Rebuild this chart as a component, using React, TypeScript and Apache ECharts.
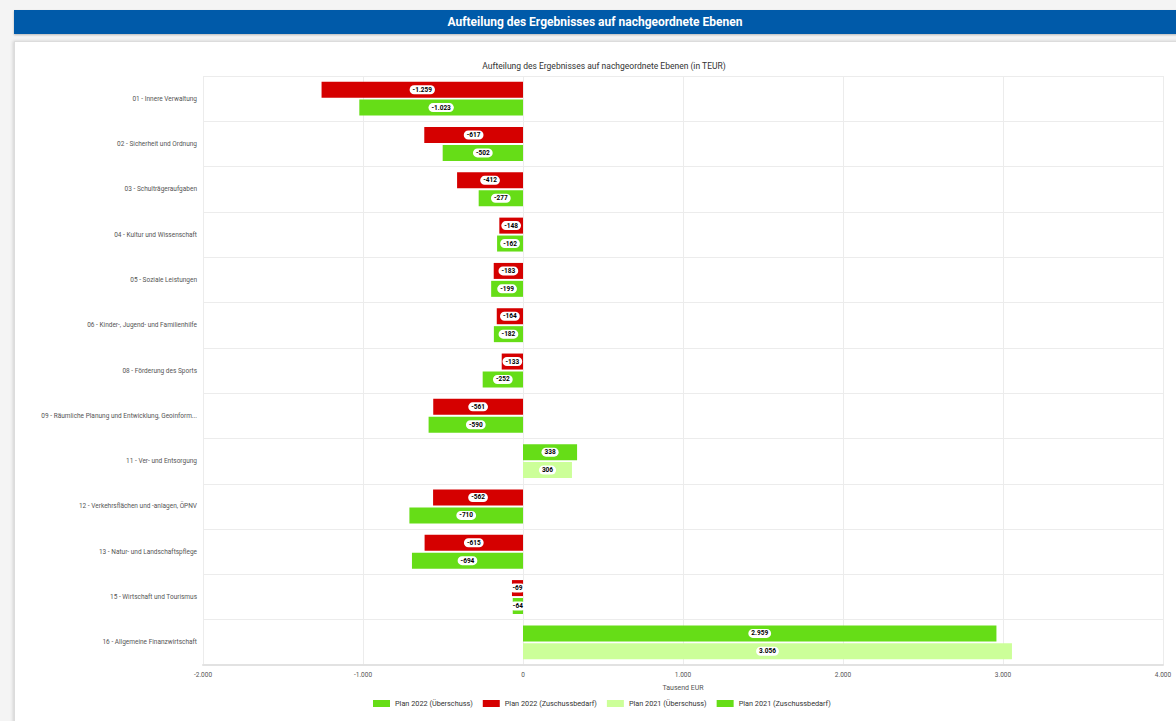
import React, { useEffect, useRef } from "react";
import * as echarts from "echarts";

const categories = [
  "01 - Innere Verwaltung",
  "02 - Sicherheit und Ordnung",
  "03 - Schulträgeraufgaben",
  "04 - Kultur und Wissenschaft",
  "05 - Soziale Leistungen",
  "06 - Kinder-, Jugend- und Familienhilfe",
  "08 - Förderung des Sports",
  "09 - Räumliche Planung und Entwicklung, Geoinform...",
  "11 - Ver- und Entsorgung",
  "12 - Verkehrsflächen und -anlagen, ÖPNV",
  "13 - Natur- und Landschaftspflege",
  "15 - Wirtschaft und Tourismus",
  "16 - Allgemeine Finanzwirtschaft",
];

const plan2022Ueberschuss = [null, null, null, null, null, null, null, null, 338, null, null, null, 2959];
const plan2022Zuschussbedarf = [-1259, -617, -412, -148, -183, -164, -133, -561, null, -562, -615, -69, null];
const plan2021Ueberschuss = [null, null, null, null, null, null, null, null, 306, null, null, null, 3056];
const plan2021Zuschussbedarf = [-1023, -502, -277, -162, -199, -182, -252, -590, null, -710, -694, -64, null];

const xTickMin = -2000;
const xTickMax = 4000;
const xTickStep = 1000;

const seriesNames = [
  "Plan 2022 (Überschuss)",
  "Plan 2022 (Zuschussbedarf)",
  "Plan 2021 (Überschuss)",
  "Plan 2021 (Zuschussbedarf)",
];

const fmtDe = (v: number) => {
  const neg = v < 0;
  const s = Math.abs(Math.round(v)).toString().replace(/\B(?=(\d{3})+(?!\d))/g, ".");
  return (neg ? "-" : "") + s;
};

export default function App() {
  const ref = useRef<HTMLDivElement>(null);
  useEffect(() => {
    if (!ref.current) return;
    const chart = echarts.init(ref.current, undefined, { renderer: "svg" });
    const font = "Roboto, 'Noto Sans', sans-serif";
    const label = {
      show: true,
      position: "inside",
      fontSize: 6.5,
      fontFamily: font,
      fontWeight: "bold",
      color: "#000",
      backgroundColor: "#fff",
      borderRadius: 5,
      padding: [1, 3],
      formatter: (p: any) => fmtDe(p.value),
    };
    const mk = (name: string, data: (number | null)[], stack: string, color: string) => ({
      name,
      type: "bar",
      stack,
      data,
      barWidth: 16,
      barGap: "12%",
      itemStyle: { color },
      label,
    });
    chart.setOption({
      animation: false,
      textStyle: { fontFamily: font },
      title: {
        text: "Aufteilung des Ergebnisses auf nachgeordnete Ebenen (in TEUR)",
        left: 599,
        textAlign: "center",
        top: 56,
        textStyle: { fontSize: 8.5, fontWeight: "normal", color: "#333", fontFamily: font },
      },
      legend: {
        bottom: 9,
        left: 368,
        itemWidth: 17,
        itemHeight: 7,
        itemGap: 10,
        icon: "rect",
        textStyle: { fontSize: 7.3, color: "#333", fontFamily: font },
        data: seriesNames,
      },
      grid: { left: 203, right: 13, top: 76, bottom: 56, containLabel: false },
      xAxis: {
        type: "value",
        min: xTickMin,
        max: xTickMax,
        interval: xTickStep,
        name: "Tausend EUR",
        nameLocation: "middle",
        nameGap: 19,
        nameTextStyle: { fontSize: 7, color: "#555", fontFamily: font },
        axisLine: { show: true, lineStyle: { color: "#e2e2e2", width: 2 } },
        axisTick: { show: false },
        axisLabel: { fontSize: 6.5, color: "#555", margin: 6, formatter: (v: number) => fmtDe(v) },
        splitLine: { show: true, lineStyle: { color: "#ececec" } },
      },
      yAxis: {
        type: "category",
        inverse: true,
        data: categories,
        axisLine: { show: false },
        axisTick: { show: false },
        axisLabel: { fontSize: 6.5, color: "#555", margin: 6 },
        splitLine: { show: true, lineStyle: { color: "#ececec" } },
      },
      series: [
        mk(seriesNames[0], plan2022Ueberschuss, "stackA2022", "#66dd17"),
        mk(seriesNames[1], plan2022Zuschussbedarf, "stackA2022", "#d50000"),
        mk(seriesNames[2], plan2021Ueberschuss, "stackB2021", "#ccff99"),
        mk(seriesNames[3], plan2021Zuschussbedarf, "stackB2021", "#66dd17"),
      ],
    });
    return () => chart.dispose();
  }, []);

  return (
    <div style={{ position: "fixed", left: 0, top: 0, width: 1176, height: 721, background: "#f4f4f4", overflow: "hidden" }}>
      <div
        style={{
          position: "absolute",
          left: 14,
          top: 10,
          width: 1170,
          height: 24,
          background: "#005aa9",
          color: "#fff",
          fontFamily: "Roboto, sans-serif",
          fontWeight: "bold",
          fontSize: 12,
          lineHeight: "24px",
          textAlign: "center",
          paddingRight: 8,
          boxSizing: "border-box",
          boxShadow: "0 1px 2px rgba(0,0,0,0.25)",
        }}
      >
        Aufteilung des Ergebnisses auf nachgeordnete Ebenen
      </div>
      <div
        style={{
          position: "absolute",
          left: 14,
          top: 41,
          width: 1180,
          height: 700,
          background: "#fff",
          border: "1px solid #dcdcdc",
          boxShadow: "-1px 0 3px rgba(0,0,0,0.15)",
        }}
      />
      <div ref={ref} style={{ position: "absolute", left: 0, top: 0, width: 1176, height: 721 }} />
    </div>
  );
}
